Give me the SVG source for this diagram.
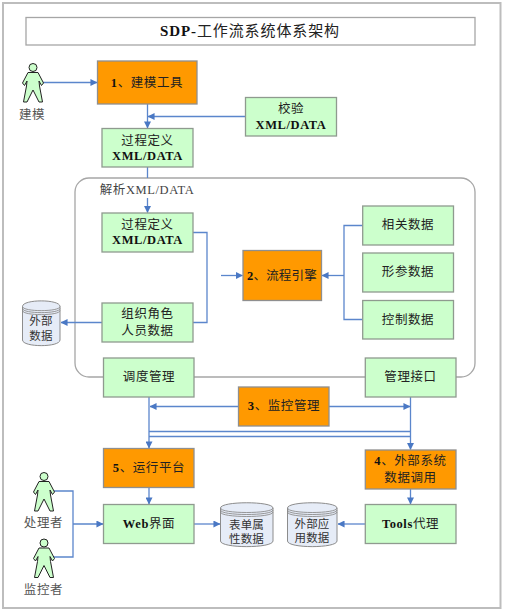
<svg xmlns="http://www.w3.org/2000/svg" width="505" height="612" viewBox="0 0 505 612">
<style>
text{font-family:"Liberation Serif","Noto Sans CJK SC",serif;font-size:12.5px;fill:#222;text-anchor:middle;letter-spacing:.6px}
.b{font-weight:bold;fill:#111}
.g rect{fill:#ccffcc;stroke:#8f9a8f;stroke-width:1.3}
.o rect{fill:#ff9900;stroke:#8f8f8f;stroke-width:1.3}
.c{fill:none;stroke:#5b86cc;stroke-width:1.3}
.cy{fill:#e6ecf7;stroke:#8c8c8c;stroke-width:1}
.cl{fill:none;stroke:#8c8c8c;stroke-width:.9}
.p{fill:#ccffcc;stroke:#222;stroke-width:1}
.l{fill:#555}
.d{font-size:11.5px;letter-spacing:.2px;fill:#333}
</style>
<defs>
<marker id="a" viewBox="0 0 8 8" refX="7.5" refY="4" markerWidth="7" markerHeight="7" markerUnits="userSpaceOnUse" orient="auto"><path d="M0 0L8 4L0 8Z" fill="#4a78c4"/></marker>
<g id="person"><circle cx="0" cy="4.5" r="4" class="p"/><path class="p" d="M-5 9.500H5L10.500 20L8.500 22.500L6 18L6.500 23L9.500 39H6L0 27L-6 39H-9.500L-6.500 23L-6 18L-8.500 22.500L-10.500 20Z"/></g>
</defs>
<rect x="3" y="3" width="497.500" height="605" fill="#fff" stroke="#bdbdbd" stroke-width="2"/>
<rect x="75" y="178" width="400" height="199" rx="14" fill="#fff" stroke="#a6a6a6" stroke-width="1.300"/>
<g id="connectors">
<path class="c" d="M43 82.500H97" marker-end="url(#a)"/>
<path class="c" d="M147.500 104V128" marker-end="url(#a)"/>
<path class="c" d="M245.500 116.500H148" marker-end="url(#a)"/>
<path class="c" d="M147.500 167V178M147.500 198V212.500" marker-end="url(#a)"/>
<path class="c" d="M193 232.500H207V322.500H193"/>
<path class="c" d="M221 275.500H242.500" marker-end="url(#a)"/>
<path class="c" d="M362.500 225.500H344V319.500H362.500"/>
<path class="c" d="M344 275.500H322" marker-end="url(#a)"/>
<path class="c" d="M102 322.500H61" marker-end="url(#a)"/>
<path class="c" d="M149 397V448" marker-end="url(#a)"/>
<path class="c" d="M410.500 397V449.500" marker-end="url(#a)"/>
<path class="c" d="M238.500 406.500H150" marker-end="url(#a)"/>
<path class="c" d="M329 406.500H410" marker-end="url(#a)"/>
<path class="c" d="M149 431.500H410.500M149 436.500H410.500"/>
<path class="c" d="M149 487.500V504" marker-end="url(#a)"/>
<path class="c" d="M410.500 489V504" marker-end="url(#a)"/>
<path class="c" d="M54 491H73V557H54M73 524H103" marker-end="url(#a)"/>
<path class="c" d="M194 524H220" marker-end="url(#a)"/>
<path class="c" d="M365.500 524H338" marker-end="url(#a)"/>
</g>
<g id="title"><rect x="26" y="17.500" width="449" height="27.500" fill="#fff" stroke="#a6a6a6" stroke-width="1.300"/><text x="250" y="36" style="font-size:15px;letter-spacing:.9px"><tspan class="b">SDP-</tspan>工作流系统体系架构</text></g>
<text x="147" y="194" style="fill:#444">解析XML/DATA</text>
<g id="modeler"><use href="#person" x="33" y="63"/><text x="32" y="119" class="l">建模</text></g>
<g id="n1" class="o"><rect x="97.500" y="61" width="99.500" height="43"/><text x="147" y="87"><tspan class="b">1</tspan>、建模工具</text></g>
<g id="check" class="g"><rect x="245.500" y="97.500" width="91" height="38.500"/><text x="291" y="113">校验</text><text x="291" y="129" class="b">XML/DATA</text></g>
<g id="def1" class="g"><rect x="102" y="128.500" width="91" height="38.500"/><text x="147.500" y="145">过程定义</text><text x="147.500" y="160" class="b">XML/DATA</text></g>
<g id="def2" class="g"><rect x="102" y="213" width="91" height="39"/><text x="147.500" y="229">过程定义</text><text x="147.500" y="244" class="b">XML/DATA</text></g>
<g id="org" class="g"><rect x="102" y="303" width="91" height="39"/><text x="147.500" y="318">组织角色</text><text x="147.500" y="335">人员数据</text></g>
<g id="engine" class="o"><rect x="243" y="250.500" width="78.500" height="50"/><text x="282" y="280" style="letter-spacing:.2px"><tspan class="b">2</tspan>、流程引擎</text></g>
<g id="d1" class="g"><rect x="362.700" y="206" width="90.800" height="39"/><text x="408" y="229">相关数据</text></g>
<g id="d2" class="g"><rect x="362.700" y="253" width="90.800" height="39"/><text x="408" y="276">形参数据</text></g>
<g id="d3" class="g"><rect x="362.700" y="300.500" width="90.800" height="38.500"/><text x="408" y="323.500">控制数据</text></g>
<g id="ext"><path class="cy" d="M22.500 306.500C22.500 299 60 299 60 306.500V340C60 347.500 22.500 347.500 22.500 340Z"/><path class="cl" d="M22.500 306.500C22.500 312 60 312 60 306.500M22.500 308.500C22.500 314 60 314 60 308.500M22.500 310.500C22.500 316 60 316 60 310.500"/><text x="41" y="325" class="d">外部</text><text x="41" y="340" class="d">数据</text></g>
<g id="sched" class="g"><rect x="103.500" y="358" width="90.500" height="39"/><text x="149" y="381">调度管理</text></g>
<g id="mgmt" class="g"><rect x="365.300" y="358" width="90.700" height="39"/><text x="410.500" y="381">管理接口</text></g>
<g id="n3" class="o"><rect x="238.500" y="387" width="90.500" height="39"/><text x="284" y="410"><tspan class="b">3</tspan>、监控管理</text></g>
<g id="n5" class="o"><rect x="103.500" y="448.500" width="90.500" height="39"/><text x="149" y="472"><tspan class="b">5</tspan>、运行平台</text></g>
<g id="n4" class="o"><rect x="365.300" y="450" width="90.700" height="39"/><text x="410.500" y="465"><tspan class="b">4</tspan>、外部系统</text><text x="410.500" y="482">数据调用</text></g>
<g id="web" class="g"><rect x="103.500" y="504.500" width="90.500" height="39"/><text x="149" y="528"><tspan class="b">Web</tspan>界面</text></g>
<g id="tools" class="g"><rect x="365.300" y="504.500" width="90.700" height="39"/><text x="410.500" y="528"><tspan class="b">Tools</tspan>代理</text></g>
<g id="form"><path class="cy" d="M220.500 508C220.500 501 273 501 273 508V541C273 548.500 220.500 548.500 220.500 541Z"/><path class="cl" d="M220.500 508C220.500 514 273 514 273 508M220.500 510C220.500 516 273 516 273 510M220.500 512C220.500 518 273 518 273 512"/><text x="246.500" y="528.500" class="d">表单属</text><text x="246.500" y="542.500" class="d">性数据</text></g>
<g id="app"><path class="cy" d="M287.500 508C287.500 501 337 501 337 508V541C337 548.500 287.500 548.500 287.500 541Z"/><path class="cl" d="M287.500 508C287.500 514 337 514 337 508M287.500 510C287.500 516 337 516 337 510M287.500 512C287.500 518 337 518 337 512"/><text x="312" y="528" class="d">外部应</text><text x="312" y="542" class="d">用数据</text></g>
<g id="handler"><use href="#person" x="44" y="472"/><text x="43.500" y="527" class="l">处理者</text></g>
<g id="monitor"><use href="#person" x="44" y="538.500"/><text x="43.500" y="594" class="l">监控者</text></g>
</svg>
